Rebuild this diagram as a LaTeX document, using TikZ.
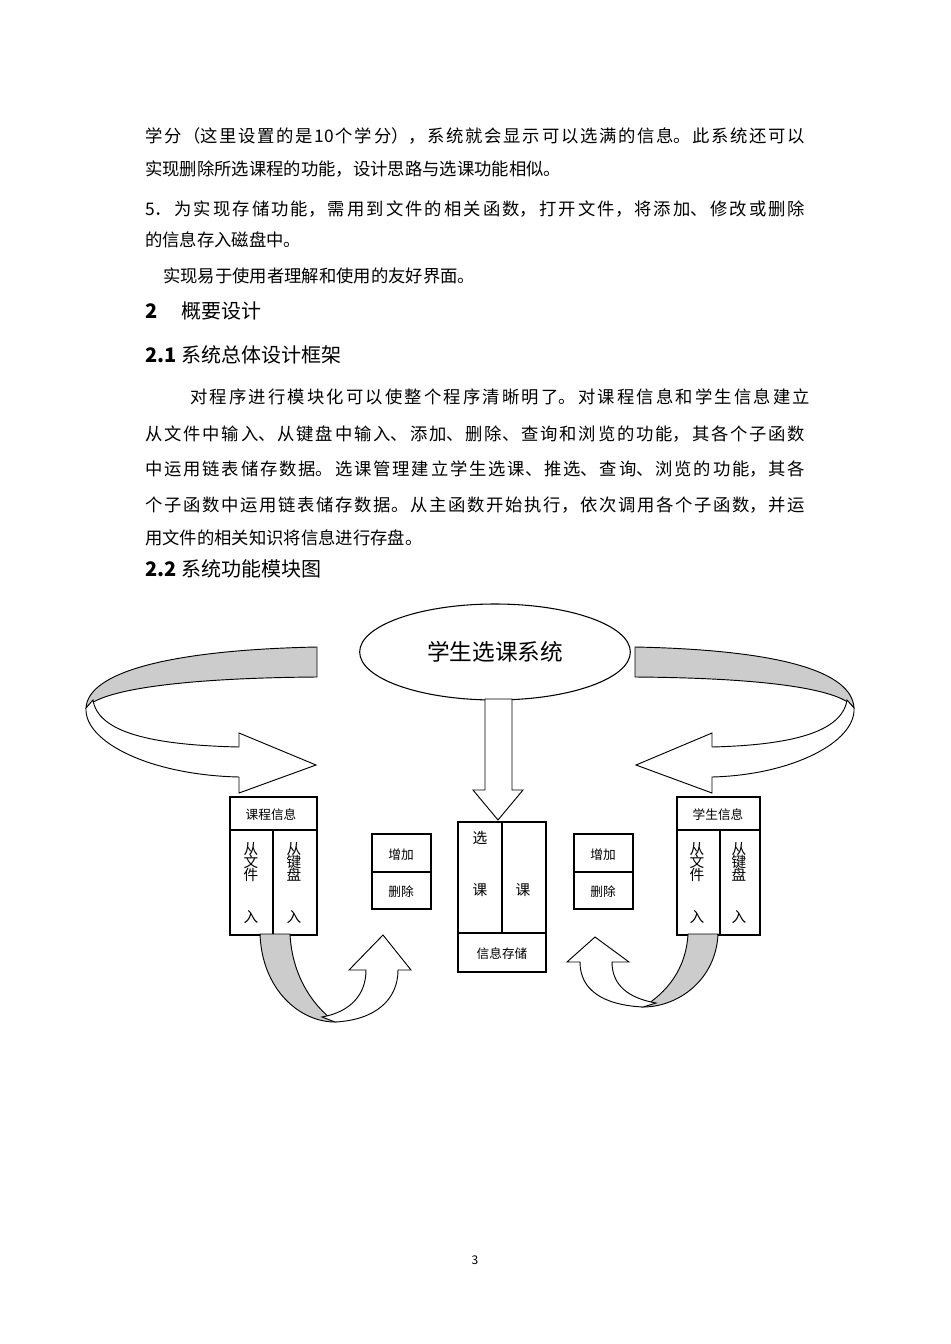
\documentclass[tikz,border=0pt]{standalone}
\usepackage{fontspec}
\setmainfont{Noto Sans CJK SC}
\usetikzlibrary{shapes.geometric}
\XeTeXlinebreaklocale "zh"
\XeTeXlinebreakskip=0pt plus 4pt
\newcommand{\jline}[1]{\parbox{495pt}{\parfillskip=0pt #1}}
\tikzset{
 txt/.style={anchor=base west,inner sep=0pt,font=\fontsize{13pt}{15pt}\selectfont},
 hd/.style={anchor=base west,inner sep=0pt,font=\fontsize{15pt}{18pt}\selectfont\bfseries},
 bx/.style={draw,line width=0.8pt},
 lab/.style={inner sep=0pt,font=\fontsize{9.5pt}{11pt}\selectfont},
 vlab/.style={inner sep=0pt,font=\fontsize{11pt}{13pt}\selectfont,align=center},
 band/.style={draw,line width=0.7pt,fill=gray!40},
 wband/.style={draw,line width=0.7pt,fill=white},
}
\begin{document}
\begin{tikzpicture}[x=0.75pt,y=-0.75pt]
\useasboundingbox (0,0) rectangle (950,1344);
% text
\node[txt] (l1) at (145,140) {\jline{学分（这里设置的是10个学分），系统就会显示可以选满的信息。此系统还可以}};
\node[txt] (l2) at (145,176) {实现删除所选课程的功能，设计思路与选课功能相似。};
\node[txt] (l3) at (145,213) {\jline{5．为实现存储功能，需用到文件的相关函数，打开文件，将添加、修改或删除}};
\node[txt] (l4) at (145,247) {的信息存入磁盘中。};
\node[txt] (l5) at (163,283) {实现易于使用者理解和使用的友好界面。};
\node[hd] (h1) at (145,318) {2\hspace{18pt}\mdseries 概要设计};
\node[hd] (h2) at (145,362) {2.1 \mdseries 系统总体设计框架};
\node[txt] (p1) at (190,401) {\parbox{465pt}{\parfillskip=0pt 对程序进行模块化可以使整个程序清晰明了。对课程信息和学生信息建立}};
\node[txt] (p2) at (145,438) {\jline{从文件中输入、从键盘中输入、添加、删除、查询和浏览的功能，其各个子函数}};
\node[txt] (p3) at (145,473) {\jline{中运用链表储存数据。选课管理建立学生选课、推选、查询、浏览的功能，其各}};
\node[txt] (p4) at (145,509) {\jline{个子函数中运用链表储存数据。从主函数开始执行，依次调用各个子函数，并运}};
\node[txt] (p5) at (145,544) {用文件的相关知识将信息进行存盘。};
\node[hd] (h3) at (145,576) {2.2 \mdseries 系统功能模块图};
\node[inner sep=0pt,font=\fontsize{9pt}{10pt}\selectfont] (pg) at (475,1260) {3};

% ellipse
\node[ellipse,draw,line width=0.8pt,minimum width=203pt,minimum height=72pt,font=\fontsize{17pt}{20pt}\selectfont] (sys) at (495,652) {学生选课系统};
% down arrow
\draw[wband] (485,699) -- (485,790) -- (473,790) -- (498,820) -- (523,790) -- (512,790) -- (512,699) -- cycle;

% left big arrow
\draw[band] (317,647) .. controls (170,650) and (88,672) .. (86,708) .. controls (100,690) and (180,678) .. (317,677) -- cycle;
\draw[wband] (86,708) .. controls (84,742) and (150,775) .. (239,777) -- (239,793) -- (316,765) -- (239,733) -- (239,747) .. controls (150,745) and (98,732) .. (93,700) -- cycle;
% right big arrow (mirror)
\begin{scope}[shift={(952,0)},xscale=-1]
\draw[band] (317,647) .. controls (170,650) and (100,672) .. (98,708) .. controls (110,690) and (180,678) .. (317,677) -- cycle;
\draw[wband] (98,708) .. controls (96,742) and (160,775) .. (240,777) -- (240,793) -- (316,765) -- (240,733) -- (240,747) .. controls (160,745) and (110,732) .. (105,700) -- cycle;
\end{scope}

% left box
\draw[bx] (230,797) rectangle (317,935);
\draw[bx] (230,830) -- (317,830) (273,830) -- (273,935);
\node[lab] (kc) at (271,815) {课程信息};
\node[vlab,anchor=north] (cw1) at (251,842) {从\\[-3pt]文\\[-3pt]件};
\node[vlab,anchor=north] (ck1) at (294,842) {从\\[-3pt]键\\[-3pt]盘};
\node[vlab] (cr1) at (251,917) {入};
\node[vlab] (cr2) at (294,917) {入};
% left small box
\draw[bx] (372,834) rectangle (431,909);
\draw[bx] (372,872) -- (431,872);
\node[lab] (a1) at (401,855) {增加};
\node[lab] (d1) at (401,892) {删除};
% center box
\draw[bx] (458,822) rectangle (546,972);
\draw[bx] (458,933) -- (546,933) (502,822) -- (502,933);
\node[vlab] (x1) at (480,838) {选};
\node[vlab] (x2) at (480,890) {课};
\node[vlab] (x3) at (523,890) {课};
\node[lab] (cc) at (502,954) {信息存储};
% right small box
\draw[bx] (574,834) rectangle (633,909);
\draw[bx] (574,872) -- (633,872);
\node[lab] (a2) at (603,855) {增加};
\node[lab] (d2) at (603,892) {删除};
% right box
\draw[bx] (677,797) rectangle (760,935);
\draw[bx] (677,830) -- (760,830) (720,830) -- (720,935);
\node[lab] (xs) at (718,815) {学生信息};
\node[vlab,anchor=north] (rw1) at (697,842) {从\\[-3pt]文\\[-3pt]件};
\node[vlab,anchor=north] (rk1) at (739,842) {从\\[-3pt]键\\[-3pt]盘};
\node[vlab] (rr1) at (697,917) {入};
\node[vlab] (rr2) at (739,917) {入};

% bottom left arrow
\draw[band] (260,934) .. controls (262,990) and (300,1022) .. (335,1022) .. controls (312,1005) and (292,975) .. (290,934) -- cycle;
\draw[wband] (335,1022) .. controls (375,1020) and (398,1000) .. (398,970) -- (411,970) -- (383,935) -- (349,970) -- (366,970) .. controls (366,995) and (350,1012) .. (322,1017) -- cycle;
% bottom right arrow (mirror)
\begin{scope}[shift={(978,0)},xscale=-1]
\draw[band] (260,934) .. controls (262,980) and (300,1007) .. (335,1007) .. controls (312,993) and (292,970) .. (290,934) -- cycle;
\draw[wband] (335,1007) .. controls (375,1005) and (398,990) .. (398,962) -- (411,962) -- (383,937) -- (349,962) -- (366,962) .. controls (366,985) and (350,998) .. (322,1003) -- cycle;
\end{scope}
\end{tikzpicture}
\end{document}
